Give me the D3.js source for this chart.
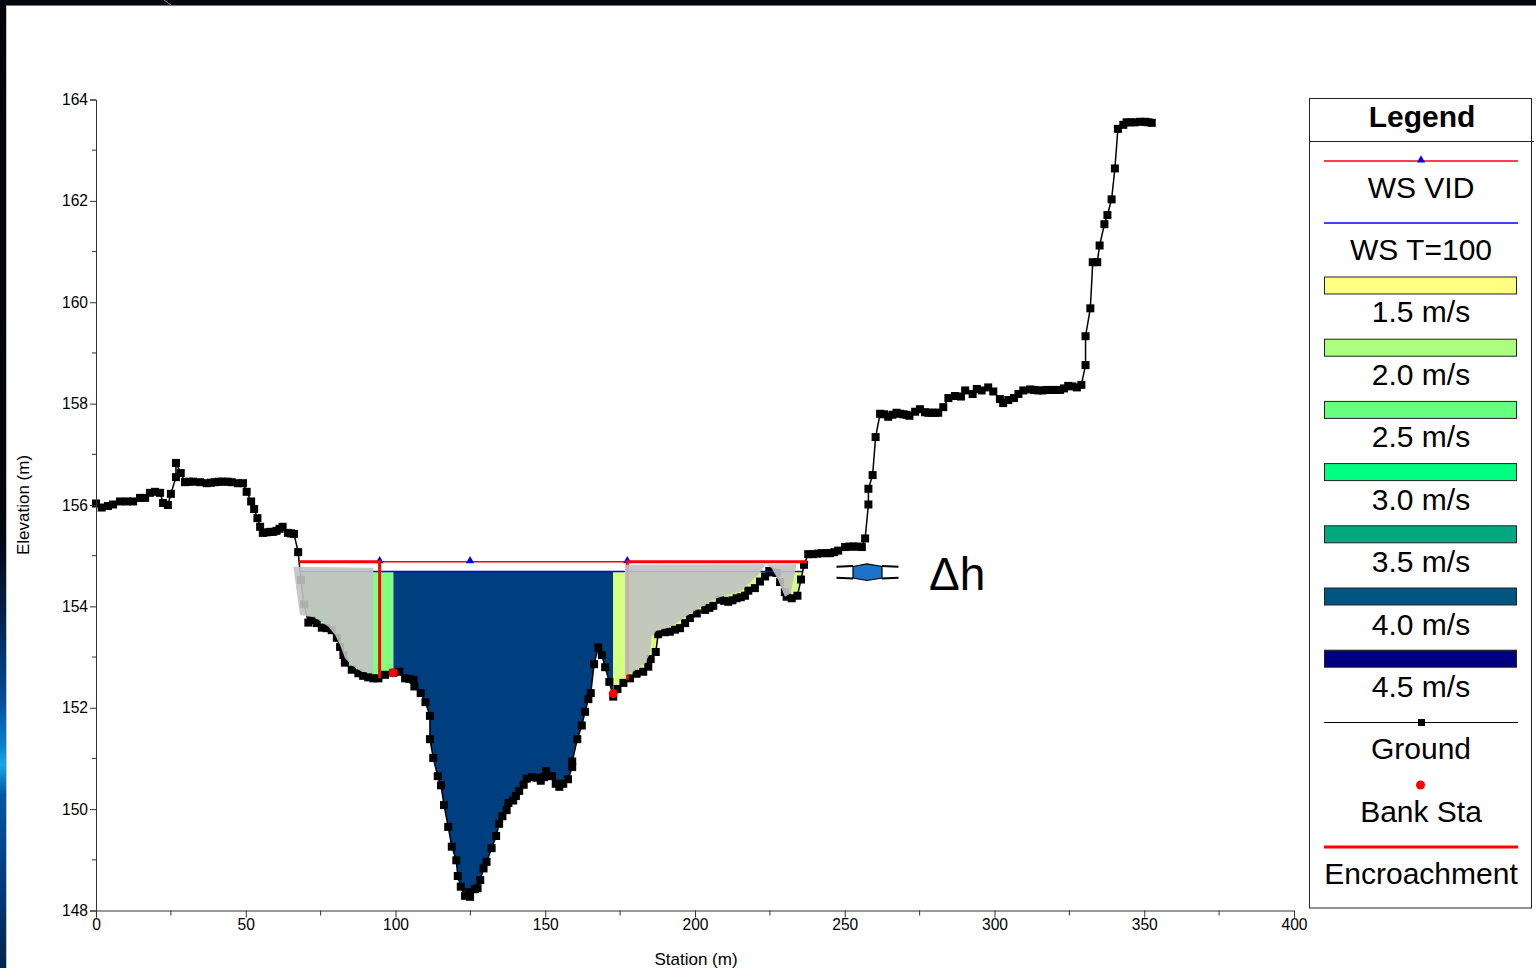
<!DOCTYPE html>
<html>
<head>
<meta charset="utf-8">
<script src="https://cdn.jsdelivr.net/npm/d3@7"></script>
<style>
  html, body { margin: 0; padding: 0; background: #fff; overflow: hidden; }
  text { font-family: "Liberation Sans", Arial, sans-serif; fill: #000; }
</style>
</head>
<body>
<script>
const groundSta = [0,1.9,4,5.7,8,10.3,12.4,14.7,16.4,18,19.7,21.4,22.4,24,25,26.7,26.7,28.3,29.7,32.4,34.7,37,39.7,42.4,45.3,47.4,49.1,50.3,51.8,52.8,53.9,54.8,55.7,58.1,60.3,62.3,64.1,66.1,67.5,68.4,69.5,70.9,72,73.7,75.4,77,78.7,80.4,81.5,82.6,83.1,85.4,87.6,89.2,92.6,94.3,96.5,99.3,101.3,103.2,106,106.3,108.4,110,111.5,111.5,112.6,114.1,115.2,116.2,117.6,118.8,120.3,120.8,121.8,123.2,124.5,124.9,126.5,127.4,128.3,129.4,130.4,132.1,133.6,134.6,135.7,137.1,137.7,139.3,140.2,141.3,142.8,143.8,145.5,147.1,148.5,149.6,150.3,152.2,153.5,154.7,156,157.6,159,159,160.7,162.2,163.3,164.4,165.2,166.3,167.7,168.9,170,171.4,172.7,174.1,176.1,178.3,180.5,182.7,184.4,185.2,186.9,187.7,190,191.6,195,196.7,198.3,200.6,203.4,206.1,208.3,211.1,213.9,216.7,217.8,220,221.7,223.4,224.8,225.6,227.3,228.4,230,230.6,232.3,234.2,235.4,236.4,237.8,239.4,242.3,245.1,247.8,250.1,252.9,255.7,256.8,257.9,257.9,259.3,260.3,261.8,263.1,264.5,267.3,269.6,271.6,273.5,275.1,276.8,279,281.2,282.9,284.6,286.8,288.8,290.2,292.7,294.1,295.7,297.9,299.6,301.8,302.9,304.6,306.5,308,309.6,311.9,314.6,317.4,321.9,324.6,327.5,329,330.4,330.4,332,332.8,334.3,335.1,336.7,337.7,339.1,340.2,341.2,343,344.1,346.9,350.3,352.5];
const groundElev = [156.03,155.95,155.98,156.01,156.07,156.07,156.07,156.14,156.14,156.24,156.26,156.24,156.04,156,156.22,156.55,156.83,156.63,156.45,156.46,156.45,156.43,156.45,156.46,156.45,156.43,156.43,156.26,156.07,155.92,155.74,155.57,155.45,155.47,155.49,155.57,155.45,155.43,155.07,154.52,154.04,153.68,153.73,153.67,153.58,153.57,153.53,153.38,153.2,153.04,152.89,152.75,152.68,152.63,152.58,152.58,152.65,152.69,152.71,152.58,152.55,152.42,152.29,152.11,151.84,151.38,151.01,150.65,150.47,150.08,149.65,149.26,148.99,148.68,148.47,148.29,148.36,148.27,148.42,148.44,148.6,148.83,148.96,149.23,149.47,149.71,149.86,149.98,150.12,150.17,150.26,150.36,150.48,150.6,150.63,150.62,150.56,150.63,150.75,150.65,150.5,150.44,150.5,150.59,150.83,150.94,151.38,151.65,151.92,152.17,152.29,152.86,153.19,153.04,152.8,152.51,152.22,152.37,152.49,152.58,152.67,152.71,152.81,152.96,153.1,153.45,153.49,153.5,153.57,153.67,153.77,153.86,153.93,154.01,154.13,154.09,154.16,154.21,154.31,154.36,154.49,154.59,154.7,154.67,154.66,154.48,154.28,154.19,154.16,154.21,154.53,154.82,155.03,155.03,155.05,155.05,155.1,155.17,155.18,155.17,155.34,156.01,156.32,156.59,157.34,157.8,157.79,157.74,157.82,157.79,157.76,157.84,157.89,157.83,157.82,157.82,157.93,158.11,158.15,158.14,158.26,158.19,158.29,158.26,158.32,158.24,158.09,158.01,158.07,158.11,158.19,158.26,158.28,158.26,158.27,158.27,158.35,158.32,158.37,158.76,159.33,159.88,160.79,160.79,161.12,161.54,161.72,162.03,162.64,163.42,163.5,163.55,163.55,163.56,163.54];

// more markers read where the chain of squares runs solid
const denseSta = [31,38.4,41,43.9,56.9,59.2,61.3,65.1,90.9,104.6,193.3,204.8,209.7,212.5,215.3,240.9,243.7,246.5,251.5,254.3,265.9,268.4,270.6,277.9,280.1,313.2,316,318.9,320.4,323.2,326,345.5,348.6,351.4];
const denseElev = [156.46,156.44,156.46,156.46,155.46,155.47,155.53,155.44,152.6,152.57,153.54,153.97,154.11,154.12,154.18,155.04,155.05,155.07,155.18,155.18,157.78,157.8,157.78,157.82,157.82,158.27,158.26,158.27,158.27,158.3,158.34,163.55,163.56,163.55];

const wsVid = 154.88;
const wsT100 = 154.69;
const wsStart = 68.2;
const wsEnd = 236;
const vidTriangles = [94.7, 124.9, 177.4];

const bankSta = [99.3, 172.7];
const bankElev = [152.69, 152.28];

const encrSta = [94.7, 177.4];
const encrElev = [152.58, 152.55];
const encrLeft = 67.9;
const encrRight = 237.4;

// velocity zones of the section: [from station, to station, colour]
const zoneFrom = [68.4, 99.3, 172.7];
const zoneTo = [99.3, 172.7, 235.4];
const zoneColor = ['#80ff80', '#003f7f', '#d4ff80'];

// ineffective flow areas, greyed over the section
const ineffLeft = [[65.9,154.78],[92.6,154.76],[92.6,152.68],[88.7,152.71],[85.4,152.84],[83.1,152.98],[81.5,153.24],[79.8,153.44],[77.6,153.6],[73.1,153.78],[68.1,153.83]];
const ineffRight = [[176.6,154.82],[223.7,154.83],[220.6,154.59],[215,154.29],[207.2,154.16],[201.7,153.98],[197.2,153.81],[193.9,153.67],[190.5,153.57],[187.2,153.52],[185.5,153.4],[185,153.07],[183.3,152.88],[179.4,152.71],[176.6,152.63]];
const ineffHump = [[223.7,154.83],[233.9,154.83],[232,154.26],[230,154.19],[227.8,154.52],[225.6,154.75]];

const xTicks = [0, 50, 100, 150, 200, 250, 300, 350, 400];
const xMinor = [25, 75, 125, 175, 225, 275, 325, 375];
const yTicks = [148, 150, 152, 154, 156, 158, 160, 162, 164];
const yMinor = [149, 151, 153, 155, 157, 159, 161, 163];

const legendVelocity = ['1.5 m/s', '2.0 m/s', '2.5 m/s', '3.0 m/s', '3.5 m/s', '4.0 m/s', '4.5 m/s'];
const legendVelColor = ['#ffff80', '#aaff80', '#66ff80', '#00ff80', '#00aa80', '#005580', '#000080'];

const width = 1536, height = 968;
const x = d3.scaleLinear().domain([0, 400]).range([96, 1294]);
const y = d3.scaleLinear().domain([148, 164]).range([910.5, 99.5]);

const ground = d3.sort(
  groundSta.map((s, i) => ({ sta: s, elev: groundElev[i] }))
    .concat(denseSta.map((s, i) => ({ sta: s, elev: denseElev[i] }))),
  d => d.sta
);

const svg = d3.select('body').append('svg')
  .attr('width', width)
  .attr('height', height)
  .style('display', 'block');

// photographed slide edge: dark top band, blue-ish left band
const defs = svg.append('defs');
const grad = defs.append('linearGradient').attr('id', 'edge')
  .attr('x1', 0).attr('x2', 0).attr('y1', 0).attr('y2', 1);
const edgeStops = [[0, '#02040a'], [0.55, '#02060f'], [0.64, '#01234f'], [0.72, '#014a98'], [0.77, '#0a80d0'], [0.79, '#14a8e8'], [0.82, '#0058a8'], [0.9, '#013e86'], [1, '#01234c']];
edgeStops.forEach(s => grad.append('stop').attr('offset', s[0]).attr('stop-color', s[1]));
svg.append('rect').attr('width', 6).attr('height', height).attr('fill', 'url(#edge)');
svg.append('rect').attr('width', width).attr('height', 5).attr('fill', '#05080f');
svg.append('line').attr('x1', 6).attr('x2', width).attr('y1', 5.5).attr('y2', 5.5).attr('stroke', '#777');
svg.append('line').attr('x1', 6.5).attr('x2', 6.5).attr('y1', 5).attr('y2', height).attr('stroke', '#888').attr('stroke-opacity', 0.5);
svg.append('line').attr('x1', 164).attr('y1', 0).attr('x2', 171).attr('y2', 5).attr('stroke', '#777');

// water fills, one per velocity zone
const area = d3.area()
  .x(d => x(d.sta))
  .y0(y(wsT100))
  .y1(d => y(Math.min(d.elev, wsT100)));

zoneFrom.forEach((from, i) => {
  const pts = ground.filter(d => d.sta >= from && d.sta <= zoneTo[i]);
  svg.append('path').attr('d', area(pts)).attr('fill', zoneColor[i]);
});

// ground line and markers
const line = d3.line().x(d => x(d.sta)).y(d => y(d.elev));
svg.append('path')
  .attr('d', line(ground))
  .attr('fill', 'none')
  .attr('stroke', '#000')
  .attr('stroke-width', 1.5);
svg.append('g').selectAll('rect')
  .data(ground)
  .join('rect')
  .attr('x', d => x(d.sta) - 4)
  .attr('y', d => y(d.elev) - 4)
  .attr('width', 8)
  .attr('height', 8)
  .attr('fill', '#000');

// water surfaces
svg.append('line')
  .attr('x1', x(wsStart)).attr('x2', x(wsEnd))
  .attr('y1', y(wsT100)).attr('y2', y(wsT100))
  .attr('stroke', '#0000ff').attr('stroke-width', 1.5);
svg.append('line')
  .attr('x1', x(encrLeft)).attr('x2', x(encrRight))
  .attr('y1', y(wsVid)).attr('y2', y(wsVid))
  .attr('stroke', '#ff0000').attr('stroke-width', 1.5);
svg.append('g').selectAll('path')
  .data(vidTriangles)
  .join('path')
  .attr('d', d3.symbol(d3.symbolTriangle, 30))
  .attr('transform', d => `translate(${x(d)},${y(wsVid) - 1})`)
  .attr('fill', '#0000ff');

// encroachments
const encr = d3.line().x(d => x(d[0])).y(d => y(d[1]));
[
  [[encrSta[0], encrElev[0]], [encrSta[0], wsVid], [encrLeft, wsVid]],
  [[encrSta[1], encrElev[1]], [encrSta[1], wsVid], [encrRight, wsVid]]
].forEach(p => {
  svg.append('path').attr('d', encr(p))
    .attr('fill', 'none').attr('stroke', '#ff0000').attr('stroke-width', 3);
});

// bank stations
svg.append('g').selectAll('circle')
  .data(bankSta)
  .join('circle')
  .attr('cx', d => x(d))
  .attr('cy', (d, i) => y(bankElev[i]))
  .attr('r', 4.5)
  .attr('fill', '#ff0000');

// grey overlays sit on top of everything in the section
[ineffLeft, ineffRight, ineffHump].forEach(p => {
  svg.append('path')
    .attr('d', encr(p) + 'Z')
    .attr('fill', '#c2c2c2')
    .attr('fill-opacity', 0.9);
});

// axes
const yAxis = svg.append('g').attr('transform', 'translate(96,0)')
  .call(d3.axisLeft(y).tickValues(yTicks).tickSize(6).tickPadding(2).tickFormat(d3.format('d')));
yAxis.selectAll('g.minor').data(yMinor).join('line')
  .attr('x1', -4).attr('x2', 0)
  .attr('y1', d => y(d)).attr('y2', d => y(d))
  .attr('stroke', '#333');
const xAxis = svg.append('g').attr('transform', 'translate(0,910.5)')
  .call(d3.axisBottom(x).tickValues(xTicks).tickSize(7).tickPadding(1).tickFormat(d3.format('d')));
xAxis.selectAll('g.minor').data(xMinor).join('line')
  .attr('x1', d => x(d)).attr('x2', d => x(d))
  .attr('y1', 0).attr('y2', 5)
  .attr('stroke', '#333');
svg.selectAll('.domain, .tick line').attr('stroke', '#333');
svg.selectAll('.tick text')
  .style('font-family', '"Liberation Sans", Arial, sans-serif')
  .style('font-size', '15.6px')
  .attr('fill', '#000');

svg.append('text')
  .attr('transform', 'translate(29,505) rotate(-90)')
  .attr('text-anchor', 'middle')
  .style('font-size', '17px')
  .text('Elevation (m)');
svg.append('text')
  .attr('x', 696).attr('y', 965)
  .attr('text-anchor', 'middle')
  .style('font-size', '17px')
  .text('Station (m)');

// delta h annotation
svg.append('path')
  .attr('d', 'M853,566.5L867,563.8L882,566.5V578L867,580.5L853,578Z')
  .attr('fill', '#1a73c8').attr('stroke', '#000').attr('stroke-width', 1.2);
svg.append('path')
  .attr('d', 'M836.5,566.7L853,566 M882,566L898.5,566.7 M836.5,577.7L853,578.5 M882,578.5L898.5,577.7')
  .attr('fill', 'none').attr('stroke', '#000').attr('stroke-width', 2);
svg.append('text')
  .attr('x', 929).attr('y', 589.5)
  .style('font-size', '46px')
  .text('Δh');

// legend
const lg = svg.append('g');
lg.append('rect')
  .attr('x', 1309.5).attr('y', 98.5).attr('width', 222).attr('height', 809.5)
  .attr('fill', '#fff').attr('stroke', '#222');
lg.append('line').attr('x1', 1309.5).attr('x2', 1534).attr('y1', 141.5).attr('y2', 141.5).attr('stroke', '#222');
lg.append('text').attr('x', 1422).attr('y', 127).attr('text-anchor', 'middle')
  .style('font-size', '30px').style('font-weight', 'bold').text('Legend');

const lx = 1421;
function legendText(label, base) {
  lg.append('text').attr('x', lx).attr('y', base).attr('text-anchor', 'middle')
    .style('font-size', '30px').text(label);
}
function legendLine(yy, color, w) {
  lg.append('line').attr('x1', 1324).attr('x2', 1518).attr('y1', yy).attr('y2', yy)
    .style('stroke', color).style('stroke-width', w);
}

legendLine(161, '#ff0000', 1.6);
lg.append('path').attr('d', d3.symbol(d3.symbolTriangle, 30))
  .attr('transform', 'translate(1421,160)').attr('fill', '#0000ff');
legendText('WS VID', 198);
legendLine(223, '#0000ff', 1.6);
legendText('WS T=100', 260);

legendVelocity.forEach((label, i) => {
  const top = 277 + i * 62.2;
  lg.append('rect')
    .attr('x', 1324.5).attr('y', top).attr('width', 192).attr('height', 17)
    .attr('fill', legendVelColor[i]).attr('stroke', '#222');
  legendText(label, 322 + i * 62.5);
});

legendLine(722.5, '#000', 1.2);
lg.append('rect').attr('x', 1418).attr('y', 719).attr('width', 7).attr('height', 7).attr('fill', '#000');
legendText('Ground', 759);
lg.append('circle').attr('cx', 1420.5).attr('cy', 785).attr('r', 4.5).attr('fill', '#ff0000');
legendText('Bank Sta', 822);
legendLine(847, '#ff0000', 3);
legendText('Encroachment', 884);
</script>
</body>
</html>
